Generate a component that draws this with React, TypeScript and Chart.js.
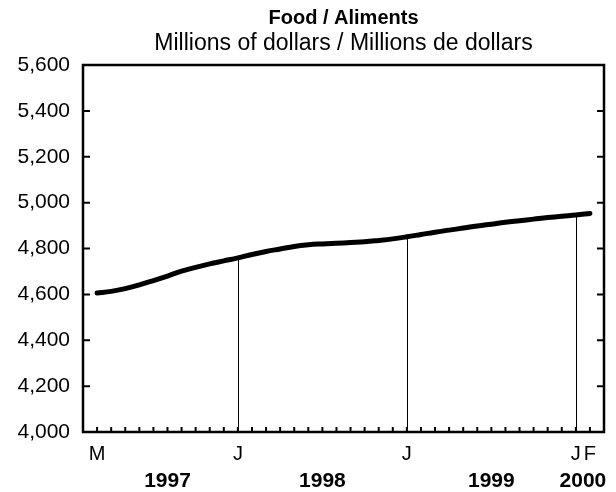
import React, { useEffect, useRef } from "react";
import { Chart, registerables } from "chart.js";

Chart.register(...registerables);

// Monthly series, March 1997 .. February 2000
const months = [
  "1997-03", "1997-04", "1997-05", "1997-06", "1997-07", "1997-08", "1997-09", "1997-10", "1997-11", "1997-12",
  "1998-01", "1998-02", "1998-03", "1998-04", "1998-05", "1998-06", "1998-07", "1998-08", "1998-09", "1998-10", "1998-11", "1998-12",
  "1999-01", "1999-02", "1999-03", "1999-04", "1999-05", "1999-06", "1999-07", "1999-08", "1999-09", "1999-10", "1999-11", "1999-12",
  "2000-01", "2000-02",
];
const food = [
  4606, 4613, 4625, 4641, 4660, 4680, 4701, 4718, 4733, 4746,
  4759, 4774, 4787, 4798, 4809, 4816, 4820, 4823, 4826, 4829, 4835, 4842,
  4851, 4861, 4871, 4880, 4889, 4898, 4906, 4914, 4921, 4928, 4935, 4941,
  4946, 4953,
];
// Month letters shown under the axis (index into months)
const monthLabelIdx = [0, 10, 22, 34, 35];
const monthLabelText = ["M", "J", "J", "J", "F"];
// January markers (vertical lines)
const januaryIdx = [10, 22, 34];
// Year labels and the index position they are centred on
const yearLabels = ["1997", "1998", "1999", "2000"];
const yearPos = [5, 16, 28, 34.5];
const yTicks = [4000, 4200, 4400, 4600, 4800, 5000, 5200, 5400, 5600];
const titleText = "Food / Aliments";
const subtitleText = "Millions of dollars / Millions de dollars";

const FONT = '"Liberation Sans", Arial, Helvetica, sans-serif';

const decorPlugin = {
  id: "decor",
  beforeDatasetsDraw(chart: any) {
    const ctx = chart.ctx;
    const x = chart.scales.x;
    const y = chart.scales.y;
    const area = chart.chartArea;
    ctx.save();
    ctx.strokeStyle = "#000";
    ctx.lineWidth = 1;
    januaryIdx.forEach((i) => {
      const px = Math.round(x.getPixelForValue(i)) + 0.5;
      ctx.beginPath();
      ctx.moveTo(px, area.bottom);
      ctx.lineTo(px, y.getPixelForValue(food[i]));
      ctx.stroke();
    });
    ctx.restore();
  },
  afterDraw(chart: any) {
    const ctx = chart.ctx;
    const x = chart.scales.x;
    const y = chart.scales.y;
    const area = chart.chartArea;
    ctx.save();
    ctx.strokeStyle = "#000";
    ctx.fillStyle = "#000";
    // frame
    ctx.lineWidth = 2.5;
    ctx.strokeRect(area.left, area.top, area.right - area.left, area.bottom - area.top);
    // y ticks (inner, both sides)
    ctx.lineWidth = 2;
    yTicks.forEach((v) => {
      const py = y.getPixelForValue(v);
      ctx.beginPath();
      ctx.moveTo(area.left, py);
      ctx.lineTo(area.left + 7, py);
      ctx.moveTo(area.right, py);
      ctx.lineTo(area.right - 7, py);
      ctx.stroke();
    });
    // x ticks (inner), one per month
    for (let i = x.min + 1; i < x.max; i++) {
      const px = x.getPixelForValue(i);
      ctx.beginPath();
      ctx.moveTo(px, area.bottom);
      ctx.lineTo(px, area.bottom - 5);
      ctx.stroke();
    }
    // y labels
    ctx.font = `21px ${FONT}`;
    ctx.textAlign = "right";
    ctx.textBaseline = "middle";
    yTicks.forEach((v) => {
      ctx.fillText(v.toLocaleString("en-US"), area.left - 13, y.getPixelForValue(v));
    });
    // month labels
    ctx.textAlign = "center";
    ctx.font = `20px ${FONT}`;
    monthLabelIdx.forEach((i, k) => {
      ctx.fillText(monthLabelText[k], x.getPixelForValue(i), area.bottom + 22);
    });
    // year labels
    ctx.font = `bold 21px ${FONT}`;
    yearLabels.forEach((t, k) => {
      ctx.fillText(t, x.getPixelForValue(yearPos[k]), area.bottom + 49);
    });
    // titles
    const cx = (area.left + area.right) / 2;
    ctx.font = `bold 20px ${FONT}`;
    ctx.fillText(titleText, cx, 18);
    ctx.font = `23px ${FONT}`;
    ctx.fillText(subtitleText, cx, 44);
    ctx.restore();
  },
};

export default function App() {
  const ref = useRef<HTMLCanvasElement | null>(null);
  useEffect(() => {
    if (!ref.current) return;
    const chart = new Chart(ref.current, {
      type: "line",
      data: {
        datasets: [
          {
            data: food.map((v, i) => ({ x: i, y: v })),
            borderColor: "#000",
            borderWidth: 5,
            pointRadius: 0,
            tension: 0.4,
            borderCapStyle: "round",
            fill: false,
          },
        ],
      },
      options: {
        animation: false,
        responsive: false,
        layout: { padding: { left: 83, right: 12, top: 65, bottom: 60 } },
        plugins: { legend: { display: false }, tooltip: { enabled: false }, title: { display: false } },
        scales: {
          x: { type: "linear", min: -1, max: months.length, display: false },
          y: { type: "linear", min: 4000, max: 5600, display: false },
        },
      },
      plugins: [decorPlugin],
    } as any);
    return () => chart.destroy();
  }, []);
  return (
    <div style={{ position: "absolute", left: 0, top: 0, width: 616, height: 492, background: "#fff" }}>
      <canvas ref={ref} width={616} height={492} />
    </div>
  );
}
